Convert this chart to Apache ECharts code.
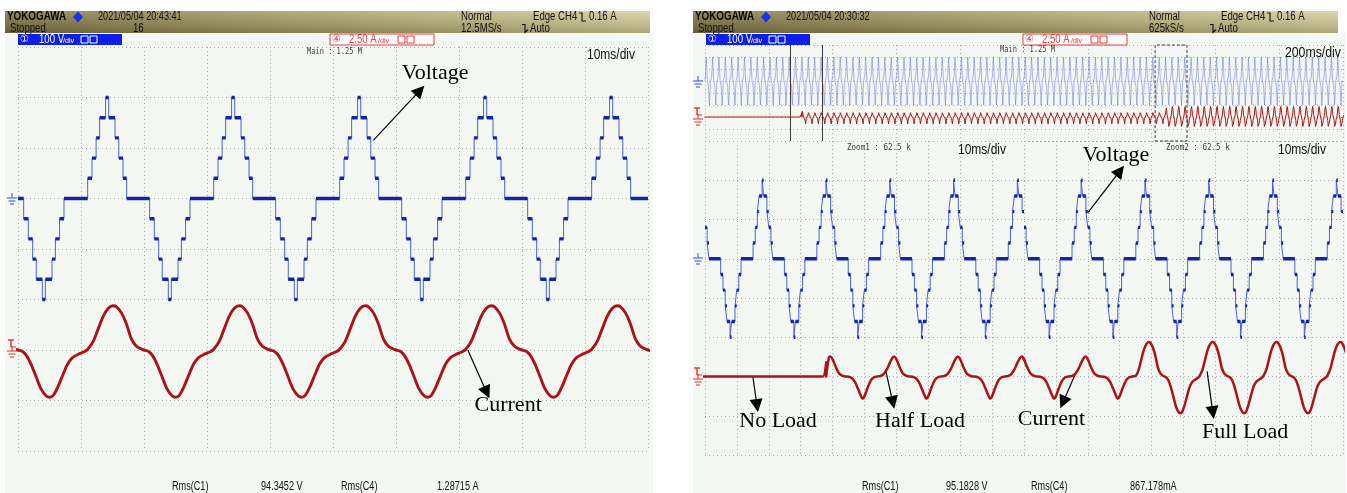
<!DOCTYPE html>
<html>
<head>
<meta charset="utf-8">
<title>Inverter voltage and load current</title>
<script src="https://cdn.jsdelivr.net/npm/echarts@6/dist/echarts.min.js"></script>
<style>
  html, body { margin: 0; padding: 0; background: #ffffff; }
  #scope { width: 1347px; height: 493px; }
</style>
</head>
<body>
<div id="scope"></div>
<script>
// ---- One 20 ms period of the 11-level staircase voltage: step start times (ms) and levels (V)
const PERIOD_MS = 20;
const voltStepTimes  = [0, 0.9, 1.64, 2.33, 2.9, 3.86, 4.34, 5.4, 5.93, 6.6, 7.3, 11.06, 11.75, 12.4, 12.96, 13.9, 14.4, 15.4, 16.0, 16.67, 17.25];
const voltStepLevels = [0, -40, -80, -120, -160, -200, -160, -120, -80, -40, 0, 40, 80, 120, 160, 200, 160, 120, 80, 40, 0];

// ---- Load current over one period (ms within the period -> A)
const currentFullTimes = [0, 0.6, 1.3, 2.1, 2.9, 3.7, 4.5, 5.0, 5.6, 6.3, 7.1, 7.9, 8.7, 9.8, 10.6, 11.1, 11.9, 12.7, 13.5, 14.3, 15.1, 15.6, 16.4, 17.2, 18.0, 18.8, 19.5];
const currentFullAmps  = [0.0, -0.05, -0.25, -0.72, -1.35, -1.95, -2.28, -2.34, -2.25, -1.85, -1.25, -0.68, -0.36, -0.18, -0.07, 0.05, 0.4, 1.02, 1.65, 2.05, 2.19, 2.15, 1.85, 1.3, 0.55, 0.18, 0.06];
const currentHalfTimes = [0, 1, 2, 3, 4, 4.8, 5.4, 6, 7, 8, 9, 10, 11, 12, 13, 14, 14.8, 15.3, 16, 17, 18, 19];
const currentHalfAmps  = [0.0, -0.02, -0.1, -0.35, -0.8, -1.2, -1.42, -1.25, -0.7, -0.25, -0.05, 0.0, 0.03, 0.15, 0.45, 0.9, 1.2, 1.28, 1.1, 0.6, 0.2, 0.05];

// ---- Captures
const leftSpanMs = 100, leftPhaseMs = 0;
const leftLoadChangesMs = [];
const leftLoadLevels = ['full'];

const overviewSpanMs = 2000, overviewPhaseMs = 10;
const loadChangesMs = [304, 1446];
const loadLevels = ['none', 'half', 'full'];

const zoomStartMs = [266, 1411];
const zoomSpanMs = 100;
const zoomPhaseMs = [16.0, 16.0];

// ---- Read-outs
const leftRms = ['Rms(C1)', '94.3452 V', 'Rms(C4)', '1.28715 A'];
const rightRms = ['Rms(C1)', '95.1828 V', 'Rms(C4)', '867.178mA'];

// ---------------------------------------------------------------------------
// Staircase breakpoints over a window that starts at a given period phase
function voltageTrace(spanMs, phaseMs) {
  const n = voltStepTimes.length;
  const p0 = ((phaseMs % PERIOD_MS) + PERIOD_MS) % PERIOD_MS;
  let lvl = voltStepLevels[0];
  for (let i = 0; i < n; i++) if (voltStepTimes[i] <= p0) lvl = voltStepLevels[i];
  const pts = [[0, lvl]];
  const k0 = Math.floor(phaseMs / PERIOD_MS), k1 = Math.ceil((phaseMs + spanMs) / PERIOD_MS);
  for (let k = k0; k <= k1; k++) {
    for (let i = 0; i < n; i++) {
      const t = k * PERIOD_MS + voltStepTimes[i] - phaseMs;
      if (t > 0 && t < spanMs) { pts.push([t, voltStepLevels[i]]); lvl = voltStepLevels[i]; }
    }
  }
  pts.push([spanMs, lvl]);
  return pts;
}

// Flat parts of the staircase only (drawn heavier, like the scope's dense sample dots)
function levelSegments(pts) {
  const out = [];
  for (let i = 0; i < pts.length - 1; i++) {
    out.push([pts[i][0], pts[i][1]], [pts[i + 1][0], pts[i][1]], [pts[i + 1][0], '-']);
  }
  return out;
}

function loadAt(g, changes, levels) {
  let i = 0;
  while (i < changes.length && g >= changes[i]) i++;
  return levels[i];
}

// Current samples in a window, picking the period shape that matches the load state
// (with no load connected the current sits at 0 A on the same sample grid)
function currentTrace(globalStartMs, spanMs, phaseMs, changes, levels) {
  const pts = [];
  const shapes = {
    none: [currentHalfTimes, null],
    half: [currentHalfTimes, currentHalfAmps],
    full: [currentFullTimes, currentFullAmps]
  };
  const k0 = Math.floor(phaseMs / PERIOD_MS) - 1, k1 = Math.ceil((phaseMs + spanMs) / PERIOD_MS) + 1;
  for (let k = k0; k <= k1; k++) {
    for (const name of ['none', 'half', 'full']) {
      const [ts, as] = shapes[name];
      for (let j = 0; j < ts.length; j++) {
        const t = k * PERIOD_MS + ts[j] - phaseMs;
        if (t < -2 || t > spanMs + 2) continue;
        if (loadAt(globalStartMs + t, changes, levels) === name) pts.push([t, as ? as[j] : 0]);
      }
    }
  }
  // close each no-load stretch exactly at the switching instant
  for (let s = 0; s < changes.length; s++) {
    const t = changes[s] - globalStartMs;
    if (levels[s] === 'none' && t > -2 && t < spanMs + 2) pts.push([t, 0]);
  }
  pts.sort((p, q) => p[0] - q[0]);
  return pts;
}

// ---------------------------------------------------------------------------
const chart = echarts.init(document.getElementById('scope'), null, { renderer: 'canvas' });

const GRID_BG = '#f5f9f3';
const DOT = { type: [1, 3], color: '#a8aca8', width: 1 };
const V_THIN = '#4c5fe6', V_THICK = '#1424a8', I_COL = '#ad121a';
const SERIF = '"Liberation Serif", "Times New Roman", serif';
const SANS = '"Liberation Sans", Arial, sans-serif';
const MONO = '"DejaVu Sans Mono", "Liberation Mono", monospace';

const grids = [
  { left: 18, top: 47, width: 630, height: 404 },    // left capture
  { left: 705, top: 45, width: 638, height: 96 },    // main (overview)
  { left: 705, top: 141, width: 319, height: 314 },  // zoom 1
  { left: 1024, top: 141, width: 319, height: 314 }  // zoom 2
].map(g => Object.assign(g, { show: true, backgroundColor: GRID_BG, borderColor: '#7d7f7d', borderWidth: 1 }));

function xAx(gi, max, interval) {
  return { type: 'value', gridIndex: gi, min: 0, max, interval,
    axisLine: { show: false }, axisTick: { show: false }, axisLabel: { show: false },
    splitLine: { show: true, lineStyle: DOT } };
}
function yV(gi) {
  return { type: 'value', gridIndex: gi, min: -500, max: 300, interval: 100,
    axisLine: { show: false }, axisTick: { show: false }, axisLabel: { show: false },
    splitLine: { show: true, lineStyle: DOT } };
}
function yI(gi) {
  return { type: 'value', gridIndex: gi, min: -5, max: 15, interval: 2.5, position: 'right',
    axisLine: { show: false }, axisTick: { show: false }, axisLabel: { show: false },
    splitLine: { show: false } };
}

const xAxes = [xAx(0, leftSpanMs, 10), xAx(1, overviewSpanMs, 200), xAx(2, zoomSpanMs, 10), xAx(3, zoomSpanMs, 10)];
const yAxes = [yV(0), yI(0), yV(1), yI(1), yV(2), yI(2), yV(3), yI(3)];

// annotation helpers (data coordinates of the voltage axis)
function arrow(from, to) {
  return [{ coord: from, symbol: 'none' }, { coord: to, symbol: 'triangle', symbolSize: 13 }];
}
function tag(coord, text, size) {
  return { coord, symbol: 'circle', symbolSize: 1, itemStyle: { color: 'rgba(0,0,0,0)' },
    label: { show: true, position: 'inside', formatter: text, color: '#000', fontFamily: SERIF, fontSize: size || 22 } };
}
function notes(arrows, tags) {
  return {
    markLine: { silent: true, animation: false, symbol: ['none', 'triangle'], label: { show: false },
      lineStyle: { color: '#000', width: 1.2, type: 'solid' }, itemStyle: { color: '#000' },
      emphasis: { disabled: true }, data: arrows },
    markPoint: { silent: true, animation: false, data: tags }
  };
}

function vThin(xi, yi, data, extra) {
  return Object.assign({ type: 'line', xAxisIndex: xi, yAxisIndex: yi, data, step: 'end', showSymbol: false,
    silent: true, animation: false, lineStyle: { color: V_THIN, width: 1 }, z: 3 }, extra || {});
}
function vThick(xi, yi, data) {
  return { type: 'line', xAxisIndex: xi, yAxisIndex: yi, data, showSymbol: false, connectNulls: false,
    silent: true, animation: false, lineStyle: { color: V_THICK, width: 3.4, cap: 'butt' }, z: 4 };
}
function iLine(xi, yi, data, width, smooth) {
  return { type: 'line', xAxisIndex: xi, yAxisIndex: yi, data, showSymbol: false, smooth: smooth == null ? 0.3 : smooth,
    silent: true, animation: false, lineStyle: { color: I_COL, width: width || 2.8, join: 'round' }, z: 5 };
}

const leftV = voltageTrace(leftSpanMs, leftPhaseMs);
const leftI = currentTrace(0, leftSpanMs, leftPhaseMs, leftLoadChangesMs, leftLoadLevels);
const ovV = voltageTrace(overviewSpanMs, overviewPhaseMs);
const ovI = currentTrace(0, overviewSpanMs, overviewPhaseMs, loadChangesMs, loadLevels);
const z1V = voltageTrace(zoomSpanMs, zoomPhaseMs[0]);
const z1I = currentTrace(zoomStartMs[0], zoomSpanMs, zoomPhaseMs[0], loadChangesMs, loadLevels);
const z2V = voltageTrace(zoomSpanMs, zoomPhaseMs[1]);
const z2I = currentTrace(zoomStartMs[1], zoomSpanMs, zoomPhaseMs[1], loadChangesMs, loadLevels);

const series = [
  // left capture
  vThin(0, 0, leftV, notes(
    [arrow([56.4, 115], [63.8, 214]), arrow([71.4, -300], [74.4, -384])],
    [tag([66.2, 248], 'Voltage'), tag([77.8, -410], 'Current')])),
  vThick(0, 0, levelSegments(leftV)),
  iLine(0, 1, leftI, 2.9),

  // main window with the two zoom windows marked
  vThin(1, 2, ovV, {
    step: 'end', lineStyle: { color: 'rgba(70,92,228,0.55)', width: 0.8 },
    markLine: { silent: true, animation: false, symbol: ['none', 'none'], label: { show: false },
      lineStyle: { color: '#3a3a3a', width: 1, type: 'solid' },
      data: [{ xAxis: zoomStartMs[0] }, { xAxis: zoomStartMs[0] + zoomSpanMs }] },
    markArea: { silent: true, animation: false, label: { show: false },
      itemStyle: { color: 'rgba(0,0,0,0)', borderColor: '#3a3a3a', borderWidth: 1, borderType: [3, 2] },
      data: [[{ xAxis: zoomStartMs[1] }, { xAxis: zoomStartMs[1] + zoomSpanMs }]] }
  }),
  iLine(1, 3, ovI, 1, false),

  // zoom 1
  vThin(2, 4, z1V, notes(
    [arrow([15.0, -300], [16.3, -374]), arrow([56.7, -287], [58.9, -366])],
    [tag([22.9, -415], 'No Load'), tag([67.4, -415], 'Half Load')])),
  vThick(2, 4, levelSegments(z1V)),
  iLine(2, 5, z1I, 2.5),

  // zoom 2
  vThin(3, 6, z2V, notes(
    [arrow([20.1, 118], [30.1, 224]), arrow([16.3, -290], [12.2, -366]), arrow([57.4, -287], [59.2, -392])],
    [tag([28.8, 264], 'Voltage'), tag([8.6, -410], 'Current'), tag([69.3, -441], 'Full Load')])),
  vThick(3, 6, levelSegments(z2V)),
  iLine(3, 7, z2I, 2.5)
];

// ---------------------------------------------------------------------------
// Screen furniture: header bars, channel boxes, ground markers, read-outs
// Text is squeezed horizontally to get the scope's condensed lettering.
function txt(s, x, y, o, sx) {
  return { type: 'text', silent: true, z: 20, x, y, scaleX: sx == null ? 0.8 : sx,
    style: Object.assign({ text: s, x: 0, y: 0, fill: '#101010', font: '12px ' + SANS, textAlign: 'left', textVerticalAlign: 'middle' }, o || {}) };
}
function bar(x0, x1) {
  return { type: 'rect', silent: true, z: 10, shape: { x: x0, y: 11, width: x1 - x0, height: 22 },
    style: { fill: new echarts.graphic.LinearGradient(0, 0, 1, 0.4, [
      { offset: 0, color: '#7a6f43' }, { offset: 0.45, color: '#a39a66' }, { offset: 1, color: '#d3cd9b' }]) } };
}
function shade(x0, x1) {
  return { type: 'rect', silent: true, z: 11, shape: { x: x0, y: 11, width: x1 - x0, height: 22 },
    style: { fill: new echarts.graphic.LinearGradient(0, 0, 0, 1, [
      { offset: 0, color: 'rgba(255,255,230,0.18)' }, { offset: 1, color: 'rgba(40,30,0,0.22)' }]) } };
}
function panelBg(x0, x1) {
  return { type: 'rect', silent: true, z: 0, shape: { x: x0, y: 33, width: x1 - x0, height: 460 }, style: { fill: '#f4f8f2' } };
}
function line(x1, y1, x2, y2, c, w) {
  return { type: 'line', silent: true, z: 21, shape: { x1, y1, x2, y2 }, style: { stroke: c, lineWidth: w || 1 } };
}
function ground(x, y, c) {
  return [line(x, y - 5, x, y, c), line(x - 5, y, x + 5, y, c), line(x - 3.5, y + 3, x + 3.5, y + 3, c), line(x - 2, y + 6, x + 2, y + 6, c)];
}
function redMark(x, y) {
  return [line(x - 4, y - 9, x + 2, y - 9, '#e23030', 1.4), line(x - 1, y - 9, x - 1, y - 2, '#e23030', 1.4),
    line(x - 1, y - 2, x + 4, y - 2, '#e23030', 1)].concat(ground(x, y + 2, '#e23030'));
}
function edgeIcon(x, y) {
  return { type: 'polyline', silent: true, z: 21, shape: { points: [[x, y - 4], [x + 3, y - 4], [x + 3, y + 4], [x + 7, y + 4]] },
    style: { stroke: '#101010', lineWidth: 1.1, fill: null } };
}
function autoIcon(x, y) {
  return { type: 'polyline', silent: true, z: 21, shape: { points: [[x, y - 4], [x + 3, y - 4], [x + 3, y + 4], [x + 6, y + 1]] },
    style: { stroke: '#101010', lineWidth: 1.1, fill: null } };
}
function header(x, date, extra, rate) {
  return [
    bar(x, x + 645), shade(x, x + 645),
    txt('YOKOGAWA', x + 2, 17, { font: 'bold 12px ' + SANS, fill: '#0a0a0a' }, 0.82),
    { type: 'polygon', silent: true, z: 21, shape: { points: [[x + 73, 11.5], [x + 78, 17], [x + 73, 22.5], [x + 68, 17]] }, style: { fill: '#1436e6' } },
    txt(date, x + 93, 17, null, 0.76),
    txt('Stopped', x + 5, 28.5),
    txt(extra, x + 128, 28.5),
    txt('Normal', x + 456, 17),
    txt(rate, x + 456, 28.5),
    txt('Edge CH4', x + 528, 17),
    edgeIcon(x + 574, 17),
    txt('0.16 A', x + 584, 17),
    autoIcon(x + 517, 28.5),
    txt('Auto', x + 525, 28.5)
  ];
}
function chBoxes(bx, rx) {
  const CIRC = '10px "DejaVu Sans", "Noto Sans CJK SC", sans-serif';
  return [
    { type: 'rect', silent: true, z: 20, shape: { x: bx, y: 34, width: 104, height: 11 }, style: { fill: '#0b1fe8' } },
    txt('\u2460', bx + 2, 39.5, { fill: '#ffffff', font: CIRC }, 1),
    txt('100 V', bx + 21, 39.5, { fill: '#ffffff', font: '12px ' + SANS }, 0.8),
    txt('/div', bx + 45, 40.5, { fill: '#ffffff', font: '8px ' + SANS }, 0.9),
    { type: 'rect', silent: true, z: 21, shape: { x: bx + 63, y: 36, width: 7, height: 7 }, style: { fill: 'none', stroke: '#ffffff', lineWidth: 1 } },
    { type: 'rect', silent: true, z: 21, shape: { x: bx + 72, y: 36, width: 7, height: 7 }, style: { fill: 'none', stroke: '#ffffff', lineWidth: 1 } },
    { type: 'rect', silent: true, z: 20, shape: { x: rx, y: 34, width: 104, height: 11 }, style: { fill: '#ffffff', stroke: '#e8383c', lineWidth: 1 } },
    txt('\u2463', rx + 2, 39.5, { fill: '#e8383c', font: CIRC }, 1),
    txt('2.50 A', rx + 19, 39.5, { fill: '#e8383c', font: '12px ' + SANS }, 0.8),
    txt('/div', rx + 48, 40.5, { fill: '#e8383c', font: '8px ' + SANS }, 0.9),
    { type: 'rect', silent: true, z: 21, shape: { x: rx + 68, y: 36, width: 7, height: 7 }, style: { fill: 'none', stroke: '#e8383c', lineWidth: 1 } },
    { type: 'rect', silent: true, z: 21, shape: { x: rx + 77, y: 36, width: 7, height: 7 }, style: { fill: 'none', stroke: '#e8383c', lineWidth: 1 } }
  ];
}
function rms(vals, xs) {
  return vals.map((s, i) => txt(s, xs[i], 487, { font: '12px ' + SANS }, 0.76));
}

const SMALL = '9px ' + MONO;
const DIV = '15px ' + SANS;
const graphic = [].concat(
  [panelBg(5, 653), panelBg(693, 1346)],
  header(5, '2021/05/04 20:43:41', '16', '12.5MS/s'),
  header(693, '2021/05/04 20:30:32', '', '625kS/s'),
  chBoxes(18, 330),
  chBoxes(706, 1023),
  [
    txt('Main : 1.25 M', 307, 52, { font: SMALL, fill: '#3a3a3a' }, 0.78),
    txt('10ms/div', 635, 54.5, { font: DIV, textAlign: 'right' }, 0.8),
    txt('Main : 1.25 M', 1000, 50, { font: SMALL, fill: '#3a3a3a' }, 0.78),
    txt('200ms/div', 1341, 53, { font: DIV, textAlign: 'right' }, 0.82),
    txt('Zoom1 : 62.5 k', 847, 148, { font: SMALL, fill: '#3a3a3a' }, 0.84),
    txt('10ms/div', 1006, 149.5, { font: DIV, textAlign: 'right' }, 0.8),
    txt('Zoom2 : 62.5 k', 1166, 148, { font: SMALL, fill: '#3a3a3a' }, 0.84),
    txt('10ms/div', 1326, 149.5, { font: DIV, textAlign: 'right' }, 0.8)
  ],
  ground(12, 198, '#3050e0'), redMark(12, 349),
  ground(698, 81, '#3050e0'), redMark(698, 117),
  ground(698, 258, '#3050e0'), redMark(698, 377),
  rms(leftRms, [172, 261, 341, 437]),
  rms(rightRms, [862, 946, 1031, 1130])
);

chart.setOption({
  animation: false,
  backgroundColor: '#ffffff',
  grid: grids,
  xAxis: xAxes,
  yAxis: yAxes,
  series,
  graphic
});
</script>
</body>
</html>
